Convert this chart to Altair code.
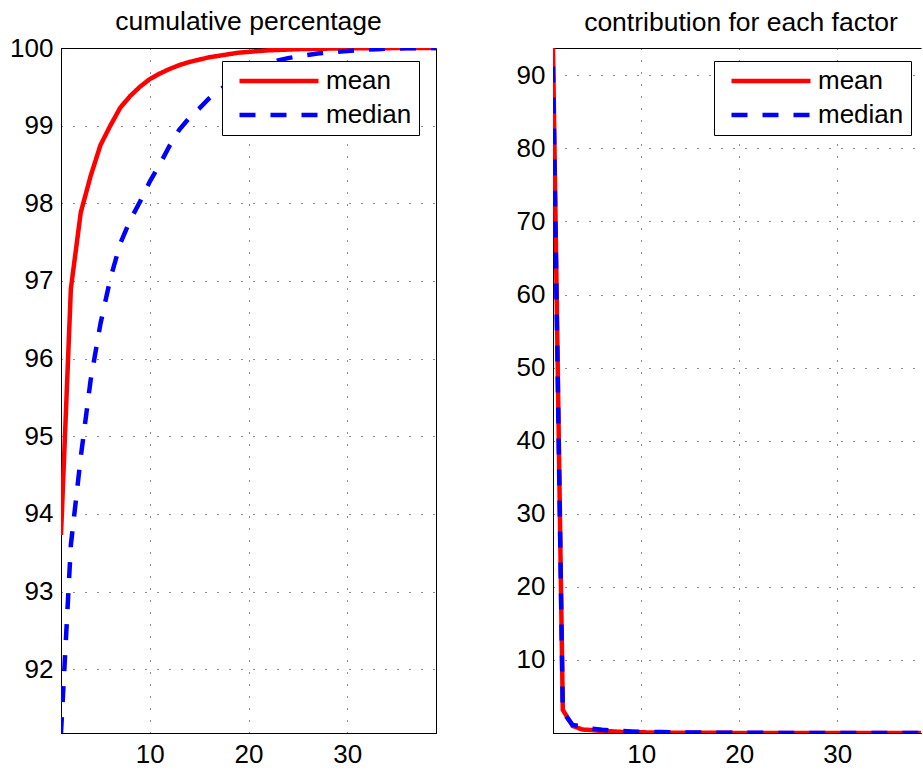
import altair as alt
import pandas as pd

factor = list(range(1, 40))

cum_mean = [93.73, 96.9, 97.88, 98.35, 98.75, 99.0, 99.23, 99.38, 99.5, 99.6,
            99.67, 99.73, 99.78, 99.82, 99.85, 99.88, 99.9, 99.92, 99.94, 99.95,
            99.96, 99.97, 99.975, 99.98, 99.985, 99.988, 99.99, 99.992, 99.994, 99.995,
            99.996, 99.997, 99.998, 99.998, 99.999, 99.999, 100.0, 100.0, 100.0]

cum_median = [91.18, 93.6, 94.73, 95.72, 96.45, 97.03, 97.48, 97.78, 98.02, 98.28,
              98.5, 98.74, 98.95, 99.1, 99.22, 99.35, 99.45, 99.55, 99.63, 99.7,
              99.75, 99.8, 99.84, 99.87, 99.89, 99.91, 99.93, 99.94, 99.95, 99.96,
              99.97, 99.98, 99.985, 99.99, 99.993, 99.996, 99.998, 99.999, 100.0]

contrib_mean = [93.73, 3.17, 0.98, 0.47, 0.40, 0.25, 0.23, 0.15, 0.12, 0.10,
                0.07, 0.06, 0.05, 0.04, 0.03, 0.03, 0.02, 0.02, 0.02, 0.01,
                0.01, 0.01, 0.005, 0.005, 0.005, 0.003, 0.002, 0.002, 0.002, 0.001,
                0.001, 0.001, 0.001, 0.0, 0.001, 0.0, 0.001, 0.0, 0.0]

contrib_median = [91.2, 2.9, 1.1, 0.9, 0.6, 0.45, 0.35, 0.28, 0.22, 0.18,
                  0.15, 0.12, 0.1, 0.08, 0.07, 0.06, 0.05, 0.04, 0.035, 0.03,
                  0.025, 0.02, 0.018, 0.015, 0.012, 0.01, 0.009, 0.008, 0.007, 0.006,
                  0.005, 0.004, 0.004, 0.003, 0.003, 0.002, 0.002, 0.001, 0.001]

series_names = ["mean", "median"]
series_colors = ["#ff0000", "#0000ff"]
series_dashes = [[1, 0], [16, 15]]

left_ticks = [92, 93, 94, 95, 96, 97, 98, 99, 100]
right_ticks = [10, 20, 30, 40, 50, 60, 70, 80, 90]
x_ticks = [10, 20, 30]

df_cum = pd.DataFrame({
    "factor": factor * 2,
    "value": cum_mean + cum_median,
    "series": ["mean"] * len(factor) + ["median"] * len(factor),
})
df_con = pd.DataFrame({
    "factor": factor * 2,
    "value": contrib_mean + contrib_median,
    "series": ["mean"] * len(factor) + ["median"] * len(factor),
})

FONT = "Liberation Sans"
H = 685


def axis_common(values):
    return dict(values=values, title=None, ticks=False, labelFontSize=26, labelFont=FONT,
                labelColor="black", domainColor="black", domainWidth=1,
                grid=True, gridColor="black", gridDash=[1, 11], gridWidth=1, gridOpacity=0.9,
                labelPadding=8)


def panel(df, xdomain, ydomain, yticks, title, width, title_dx, title_offset, view):
    leg = dict(title=None, orient="none", legendX=161, legendY=13)
    color = alt.Color("series:N",
                      scale=alt.Scale(domain=series_names, range=series_colors),
                      legend=alt.Legend(**leg))
    dash = alt.StrokeDash("series:N",
                          scale=alt.Scale(domain=series_names, range=series_dashes),
                          legend=alt.Legend(**leg))
    return alt.Chart(df).mark_line(strokeWidth=4.5, clip=True).encode(
        x=alt.X("factor:Q", scale=alt.Scale(domain=xdomain, nice=False, zero=False),
                axis=alt.Axis(**axis_common(x_ticks))),
        y=alt.Y("value:Q", scale=alt.Scale(domain=ydomain, nice=False, zero=False),
                axis=alt.Axis(**axis_common(yticks))),
        color=color,
        strokeDash=dash,
    ).properties(
        width=width, height=H, view=view,
        title=alt.TitleParams(title, fontSize=26.5, font=FONT, fontWeight="normal",
                              color="black", offset=title_offset, frame="group",
                              dx=title_dx),
    )


RW = 368
left = panel(df_cum, [1, 39], [91.18, 100], left_ticks, "cumulative percentage",
             375, 0, 0, alt.ViewBackground(stroke="black", strokeWidth=1))
right = panel(df_con, [1, 1 + RW / 9.8], [0, 93.73], right_ticks,
              "contribution for each factor", RW, 4, 12,
              alt.ViewBackground(stroke="black", strokeWidth=1,
                                 strokeDash=[RW, H, RW + H]))

chart = alt.hconcat(left, right, spacing=78).resolve_scale(
    color="independent", strokeDash="independent"
).resolve_legend(
    color="independent", strokeDash="independent"
).properties(
    padding={"left": 9, "top": 8, "right": 0, "bottom": 0}
).configure_legend(
    strokeColor="black", fillColor="white",
    padding=7, labelFontSize=26, labelFont=FONT, labelColor="black",
    symbolType="stroke", symbolSize=6241, symbolStrokeWidth=4.5,
    clipHeight=26, rowPadding=8, labelOffset=5, symbolOffset=8, labelLimit=300,
    cornerRadius=0
)

chart.save("out.html", embed_options={"renderer": "svg", "actions": False})
